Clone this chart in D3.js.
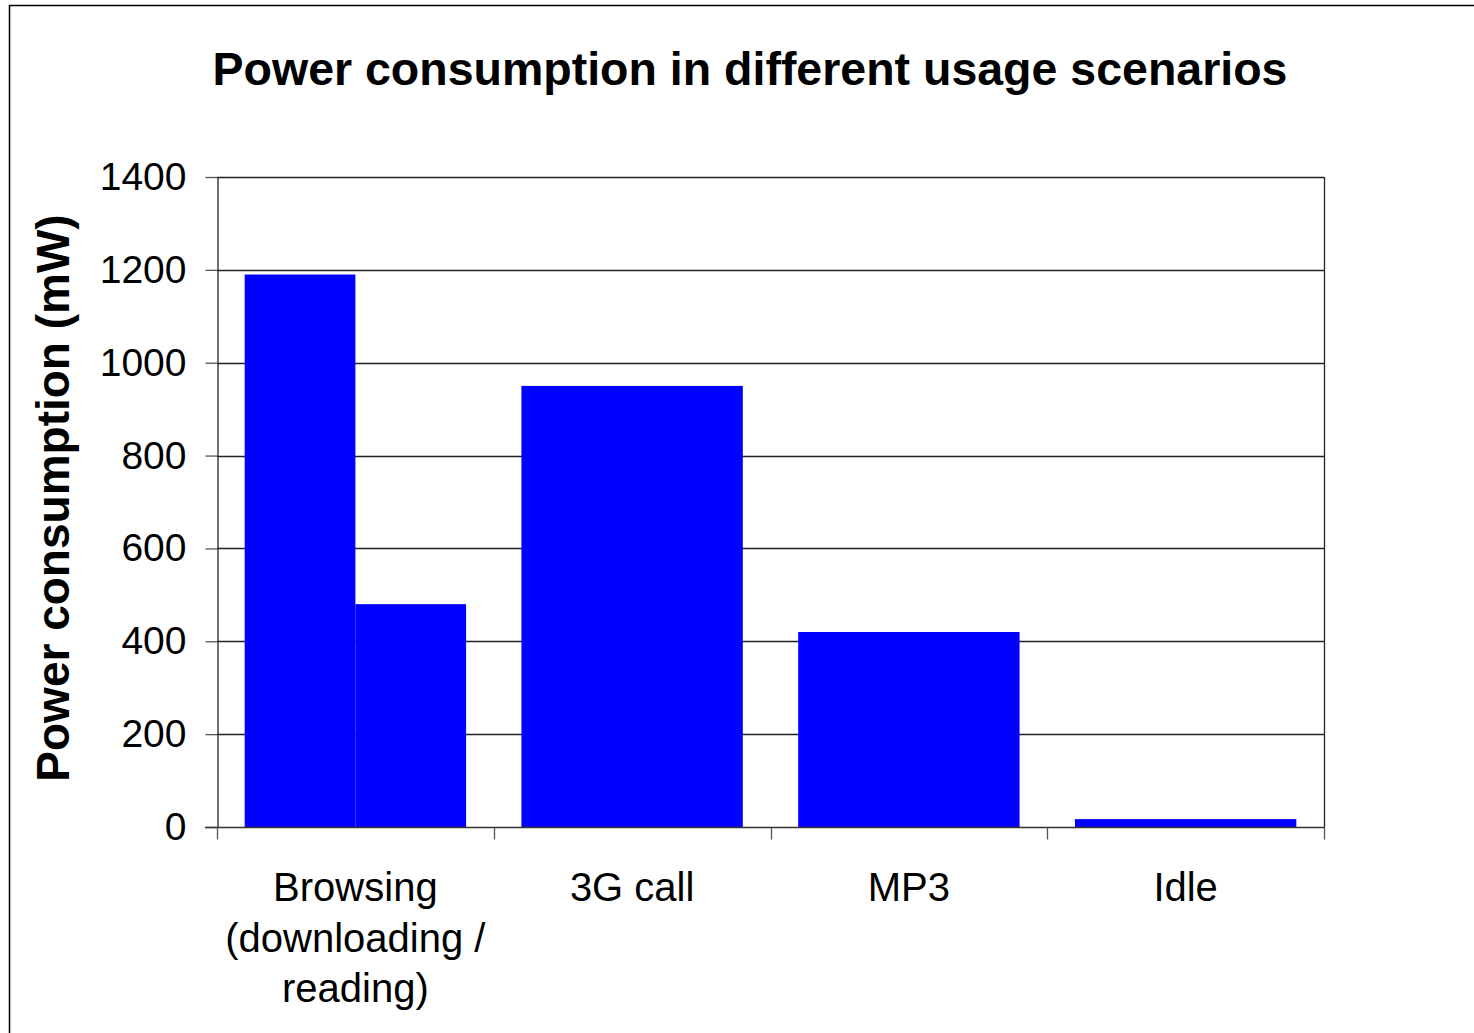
<!DOCTYPE html>
<html>
<head>
<meta charset="utf-8">
<script src="https://cdn.jsdelivr.net/npm/d3@7"></script>
<style>
  html, body { margin: 0; padding: 0; background: #fff; }
  svg { display: block; font-family: "Liberation Sans", Arial, sans-serif; }
</style>
</head>
<body>
<svg id="chart" width="1474" height="1033"></svg>
<script>
// Scenario categories (multi-line labels) and measured power in mW.
// Browsing is split into a downloading part and a reading part.
const categories = ["Browsing", "3G call", "MP3", "Idle"];
const categoryLabels = [
  ["Browsing", "(downloading /", "reading)"],
  ["3G call"],
  ["MP3"],
  ["Idle"]
];
const powerValues = [
  [1190, 480],
  [950],
  [420],
  [17]
];
const yTicks = [0, 200, 400, 600, 800, 1000, 1200, 1400];

const svg = d3.select("#chart");
const plot = { left: 217, right: 1324, top: 177, bottom: 827 };

// outer chart frame
svg.append("rect")
  .attr("x", 9.5).attr("y", 5.5)
  .attr("width", 1480).attr("height", 1040)
  .attr("fill", "none").attr("stroke", "#000").attr("stroke-width", 1.5);

const x = d3.scaleBand()
  .domain(categories)
  .range([plot.left, plot.right])
  .paddingInner(0.2)
  .paddingOuter(0.1);

const y = d3.scaleLinear()
  .domain([0, 1400])
  .range([plot.bottom, plot.top]);

// horizontal gridlines
svg.append("g")
  .selectAll("line")
  .data(yTicks.filter(t => t > 0))
  .join("line")
  .attr("x1", plot.left).attr("x2", plot.right)
  .attr("y1", d => Math.round(y(d)) + 0.5)
  .attr("y2", d => Math.round(y(d)) + 0.5)
  .attr("stroke", "#222").attr("stroke-width", 1.3);

// right border of plot area
svg.append("line")
  .attr("x1", plot.right + 0.5).attr("x2", plot.right + 0.5)
  .attr("y1", plot.top).attr("y2", plot.bottom)
  .attr("stroke", "#222").attr("stroke-width", 1.3);

// bars
const bars = svg.append("g");
categories.forEach((c, i) => {
  const vals = powerValues[i];
  const w = x.bandwidth() / vals.length;
  bars.selectAll(null)
    .data(vals)
    .join("rect")
    .attr("x", (d, j) => x(c) + j * w)
    .attr("width", w)
    .attr("y", d => y(d))
    .attr("height", d => y(0) - y(d))
    .attr("fill", "#0000ff");
});

// y axis
const yAxis = svg.append("g")
  .attr("transform", `translate(${plot.left + 0.5},0)`)
  .call(d3.axisLeft(y).tickValues(yTicks).tickFormat(d3.format("d"))
    .tickSize(12).tickPadding(19).tickSizeOuter(0));
yAxis.select(".domain").attr("stroke", "#222").attr("stroke-width", 1.3);
yAxis.selectAll(".tick line").attr("stroke", "#555").attr("stroke-width", 1.3);
yAxis.selectAll(".tick text")
  .attr("font-size", 39).attr("fill", "#000")
  .attr("font-family", "Liberation Sans, Arial, sans-serif");

// x axis with ticks on category boundaries
const xAxisG = svg.append("g")
  .attr("transform", `translate(0,${plot.bottom + 0.5})`);
xAxisG.append("line")
  .attr("x1", plot.left - 12).attr("x2", plot.right + 1)
  .attr("stroke", "#333").attr("stroke-width", 1.5);
const boundaries = d3.range(categories.length + 1).map(k => plot.left + k * (plot.right - plot.left) / categories.length);
xAxisG.selectAll(".xt")
  .data(boundaries)
  .join("line")
  .attr("class", "xt")
  .attr("x1", d => Math.round(d) + 0.5).attr("x2", d => Math.round(d) + 0.5)
  .attr("y1", 0).attr("y2", 12)
  .attr("stroke", "#555").attr("stroke-width", 1.3);

// category labels
categories.forEach((c, i) => {
  const cx = x(c) + x.bandwidth() / 2;
  const t = svg.append("text")
    .attr("x", cx).attr("y", 901)
    .attr("text-anchor", "middle")
    .attr("font-size", 40).attr("fill", "#000");
  categoryLabels[i].forEach((line, k) => {
    t.append("tspan").attr("x", cx).attr("dy", k === 0 ? 0 : 50.5).text(line);
  });
});

// title
svg.append("text")
  .attr("x", 750).attr("y", 85)
  .attr("text-anchor", "middle")
  .attr("font-size", 46.5).attr("font-weight", "bold")
  .text("Power consumption in different usage scenarios");

// y axis title
svg.append("text")
  .attr("transform", `translate(69,${(plot.top + plot.bottom) / 2 - 4}) rotate(-90)`)
  .attr("text-anchor", "middle")
  .attr("font-size", 46).attr("font-weight", "bold")
  .text("Power consumption (mW)");
</script>
</body>
</html>
